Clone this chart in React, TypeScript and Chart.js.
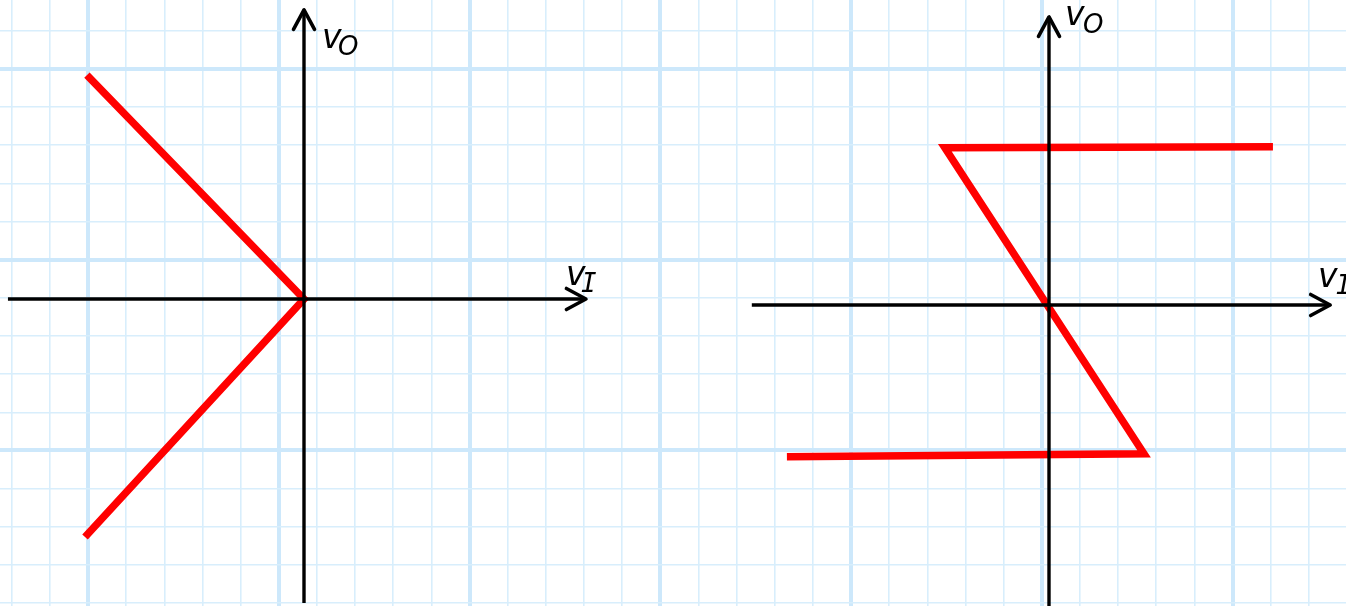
import React, { useEffect, useRef } from "react";
import { Chart, registerables } from "chart.js";

Chart.register(...registerables);

// ---- data (in grid squares, relative to each graph's origin) ----
const leftX = [-5.69, 0, -5.74];
const leftY = [5.87, 0, -6.24];

const rightX = [5.87, -2.73, 2.49, -6.87];
const rightY = [4.15, 4.12, -3.9, -3.98];

// axis extents [start, tip]
const leftAxisH = [-7.76, 7.39];
const leftAxisV = [-7.97, 7.58];
const rightAxisH = [-7.79, 7.37];
const rightAxisV = [-7.95, 7.55];

const axisNames = ["O", "I"]; // subscripts of v on vertical / horizontal axis

// ---- layout ----
const W = 1346;
const H = 606;
const SQ = 38.15; // pixels per grid square
const GRID_X0 = 88; // first major vertical paper line
const GRID_Y0 = 69; // first major horizontal paper line
const ORIGIN_L = { px: 304, py: 299 };
const ORIGIN_R = { px: 1049, py: 305 };

const gridXTicks: number[] = [];
for (let i = -3; i <= 34; i++) gridXTicks.push(i);
const gridYTicks: number[] = [];
for (let i = -2; i <= 15; i++) gridYTicks.push(i);

const MINOR = "#d8eefc";
const MAJOR = "#cde8fb";
const RED = "#ff0000";

const toPts = (xs: number[], ys: number[]) => xs.map((x, i) => ({ x, y: ys[i] }));

// label placement: main letter anchor (data units), subscript offset (px)
const GRAPHS = [
  {
    x: "xL",
    y: "yL",
    h: leftAxisH,
    v: leftAxisV,
    labV: { x: 0.47, y: 6.58, dx: 16, dy: 7 },
    labH: { x: 6.87, y: 0.37, dx: 15, dy: 7 },
  },
  {
    x: "xR",
    y: "yR",
    h: rightAxisH,
    v: rightAxisV,
    labV: { x: 0.42, y: 7.34, dx: 18, dy: 8 },
    labH: { x: 7.05, y: 0.47, dx: 18, dy: 7 },
  },
];

function chevron(ctx: CanvasRenderingContext2D, tx: number, ty: number, dx: number, dy: number) {
  const back = 19.5;
  const side = 10.5;
  const nx = -dy;
  const ny = dx;
  ctx.beginPath();
  ctx.moveTo(tx - dx * back + nx * side, ty - dy * back + ny * side);
  ctx.lineTo(tx, ty);
  ctx.lineTo(tx - dx * back - nx * side, ty - dy * back - ny * side);
  ctx.stroke();
}

const decor = {
  id: "decor",
  afterDatasetsDraw(chart: any) {
    const ctx: CanvasRenderingContext2D = chart.ctx;
    ctx.save();
    ctx.strokeStyle = "#000";
    ctx.lineWidth = 3.6;
    ctx.lineCap = "round";
    ctx.lineJoin = "round";
    for (const g of GRAPHS) {
      const xs = chart.scales[g.x];
      const ys = chart.scales[g.y];
      const x0 = xs.getPixelForValue(0);
      const y0 = ys.getPixelForValue(0);
      chevron(ctx, x0, ys.getPixelForValue(g.v[1]), 0, -1);
      chevron(ctx, xs.getPixelForValue(g.h[1]), y0, 1, 0);

      ctx.fillStyle = "#000";
      ctx.textBaseline = "alphabetic";
      ctx.textAlign = "left";
      const labels = [
        { l: g.labV, sub: axisNames[0], font: 'italic 26px "DejaVu Sans"' },
        { l: g.labH, sub: axisNames[1], font: 'italic 26px "DejaVu Sans Mono"' },
      ];
      for (const { l, sub, font } of labels) {
        const px = xs.getPixelForValue(l.x);
        const py = ys.getPixelForValue(l.y);
        ctx.font = 'italic 33px "DejaVu Sans"';
        ctx.fillText("v", px, py);
        ctx.font = font;
        ctx.fillText(sub, px + l.dx, py + l.dy);
      }
    }
    ctx.restore();
  },
};

const gridScale = (min: number, max: number, ticks: number[], extra: any = {}) => ({
  type: "linear",
  min,
  max,
  ...extra,
  ticks: { display: false },
  afterBuildTicks: (s: any) => {
    s.ticks = ticks.map((v) => ({ value: v }));
  },
  grid: {
    drawTicks: false,
    color: (c: any) => (c.tick && Math.abs(c.tick.value % 5) === 0 ? MAJOR : MINOR),
    lineWidth: (c: any) => (c.tick && Math.abs(c.tick.value % 5) === 0 ? 4 : 1.6),
  },
  border: { display: false },
});

export default function App() {
  const ref = useRef<HTMLCanvasElement | null>(null);

  useEffect(() => {
    if (!ref.current) return;
    const axisStyle = {
      showLine: true,
      borderColor: "#000",
      borderWidth: 3.4,
      pointRadius: 0,
      borderCapStyle: "butt",
    };
    const chart = new Chart(ref.current, {
      type: "scatter",
      data: {
        datasets: [
          { ...axisStyle, xAxisID: "xL", yAxisID: "yL", data: [{ x: leftAxisH[0], y: 0 }, { x: leftAxisH[1], y: 0 }] },
          { ...axisStyle, xAxisID: "xL", yAxisID: "yL", data: [{ x: 0, y: leftAxisV[0] }, { x: 0, y: leftAxisV[1] }] },
          { ...axisStyle, xAxisID: "xR", yAxisID: "yR", data: [{ x: rightAxisH[0], y: 0 }, { x: rightAxisH[1], y: 0 }] },
          { ...axisStyle, xAxisID: "xR", yAxisID: "yR", data: [{ x: 0, y: rightAxisV[0] }, { x: 0, y: rightAxisV[1] }] },
          {
            showLine: true,
            xAxisID: "xL",
            yAxisID: "yL",
            data: toPts(leftX, leftY),
            borderColor: RED,
            borderWidth: 7.5,
            pointRadius: 0,
            borderJoinStyle: "miter",
            borderCapStyle: "butt",
          },
          {
            showLine: true,
            xAxisID: "xR",
            yAxisID: "yR",
            data: toPts(rightX, rightY),
            borderColor: RED,
            borderWidth: 7.5,
            pointRadius: 0,
            borderJoinStyle: "miter",
            borderCapStyle: "butt",
          },
        ] as any,
      },
      options: {
        animation: false,
        responsive: false,
        devicePixelRatio: 1,
        layout: { padding: 0 },
        plugins: { legend: { display: false }, tooltip: { enabled: false } },
        events: [],
        scales: {
          xg: gridScale(-GRID_X0 / SQ, (W - GRID_X0) / SQ, gridXTicks, { position: "bottom" }),
          yg: gridScale(-GRID_Y0 / SQ, (H - GRID_Y0) / SQ, gridYTicks, { position: "left", reverse: true }),
          xL: { type: "linear", display: false, min: -ORIGIN_L.px / SQ, max: (W - ORIGIN_L.px) / SQ },
          yL: { type: "linear", display: false, min: -(H - ORIGIN_L.py) / SQ, max: ORIGIN_L.py / SQ },
          xR: { type: "linear", display: false, min: -ORIGIN_R.px / SQ, max: (W - ORIGIN_R.px) / SQ },
          yR: { type: "linear", display: false, min: -(H - ORIGIN_R.py) / SQ, max: ORIGIN_R.py / SQ },
        } as any,
      },
      plugins: [decor],
    });
    return () => chart.destroy();
  }, []);

  return (
    <div style={{ position: "fixed", left: 0, top: 0, width: W, height: H, background: "#fff" }}>
      <canvas ref={ref} width={W} height={H} style={{ display: "block", width: W, height: H }} />
    </div>
  );
}
